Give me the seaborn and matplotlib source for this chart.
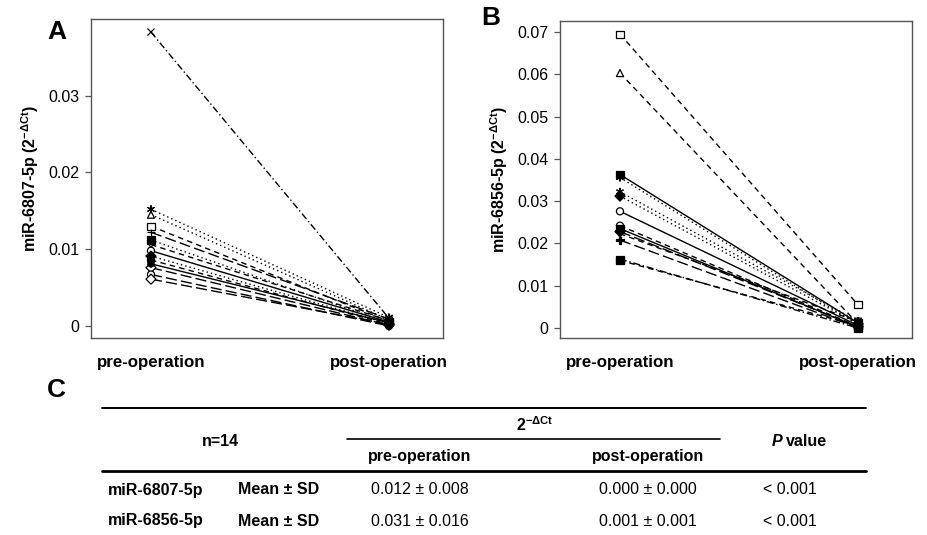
import matplotlib
matplotlib.use("Agg")
import matplotlib.pyplot as plt
from matplotlib.lines import Line2D
from matplotlib.markers import MarkerStyle
import seaborn as sns
import pandas as pd

# ---------------- data ----------------
categories = ["pre-operation", "post-operation"]
subjects = list(range(1, 15))

mir6807_pre = [0.0383, 0.0152, 0.0145, 0.0130, 0.0122, 0.0112, 0.0106,
               0.0098, 0.0091, 0.0086, 0.0081, 0.0076, 0.0067, 0.0061]
mir6807_post = [0.0010, 0.0011, 0.0008, 0.0006, 0.0009, 0.0004, 0.0007,
                0.0005, 0.0003, 0.0002, 0.0004, 0.0001, 0.0000, 0.0002]

mir6856_pre = [0.0695, 0.0603, 0.0363, 0.0356, 0.0322, 0.0312, 0.0276,
               0.0242, 0.0235, 0.0228, 0.0223, 0.0208, 0.0163, 0.0160]
mir6856_post = [0.0055, 0.0010, 0.0012, 0.0008, 0.0016, 0.0010, 0.0006,
                0.0004, 0.0002, 0.0003, 0.0015, 0.0001, 0.0000, 0.0005]

yticks_a = [0, 0.01, 0.02, 0.03]
yticklabels_a = ["0", "0.01", "0.02", "0.03"]
yticks_b = [0, 0.01, 0.02, 0.03, 0.04, 0.05, 0.06, 0.07]
yticklabels_b = ["0", "0.01", "0.02", "0.03", "0.04", "0.05", "0.06", "0.07"]

table_header = ["n=14", "pre-operation", "post-operation", "P value"]
table_mirnas = ["miR-6807-5p", "miR-6856-5p"]
table_stat = "Mean ± SD"
table_pre = ["0.012 ± 0.008", "0.031 ± 0.016"]
table_post = ["0.000 ± 0.000", "0.001 ± 0.001"]
table_p = ["< 0.001", "< 0.001"]

# ---------------- styles ----------------
AST = (6, 2, 0)
markers_a = ["x", AST, "^", "s", "+", "s", "v", "o", "D", "o", "h", "D", "o", "D"]
open_a = [False, False, True, True, False, False, True, True, False, False, False, True, True, True]
markers_b = ["s", "^", "s", AST, AST, "D", "o", "o", "s", "D", "v", "P", "s", "s"]
open_b = [True, True, False, False, False, False, True, True, False, False, True, False, False, False]

SOLID, DASH, DOT, DASHDOT, LONG = "", (4, 3), (1, 2.2), (5, 2, 1, 2), (8, 3)
dashes_a = [DASHDOT, DOT, DOT, DASH, LONG, DOT, DASH, SOLID, DOT, DASH, SOLID, LONG, LONG, LONG]
dashes_b = [DASH, DASH, SOLID, DOT, DOT, DOT, SOLID, DASH, SOLID, LONG, DASH, LONG, DASHDOT, DASH]

sns.set_theme(style="white")
plt.rcParams["font.family"] = ["Liberation Sans", "DejaVu Sans"]
plt.rcParams["text.color"] = "black"
plt.rcParams["axes.labelcolor"] = "black"
plt.rcParams["xtick.color"] = "black"
plt.rcParams["ytick.color"] = "black"
plt.rcParams["mathtext.fontset"] = "custom"
plt.rcParams["mathtext.rm"] = "Liberation Sans"
plt.rcParams["mathtext.bf"] = "Liberation Sans:bold"
plt.rcParams["mathtext.it"] = "Liberation Sans:italic"

fig = plt.figure(figsize=(9.28, 5.35), dpi=100)
W, H = 928.0, 535.0


def fx(px):
    return px / W


def fy(py):
    return 1 - py / H


def panel(rect, pre, post, markers, opens, dashes, ylim, yt, ytl, ylabel):
    ax = fig.add_axes(rect)
    df = pd.DataFrame({
        "subject": subjects * 2,
        "x": [0] * len(subjects) + [1] * len(subjects),
        "value": pre + post,
    })
    sns.lineplot(data=df, x="x", y="value", hue="subject", style="subject",
                 palette=["black"] * len(subjects), dashes=dashes, markers=False,
                 sort=False, legend=False, ax=ax, lw=1.0)
    # markers, split into groups (seaborn cannot mix filled and line-art markers)
    groups = {"open": [], "solid": [], "line": []}
    for s, m, o in zip(subjects, markers, opens):
        if not MarkerStyle(m).is_filled():
            groups["line"].append(s)
        elif o:
            groups["open"].append(s)
        else:
            groups["solid"].append(s)
    for g, subs in groups.items():
        if not subs:
            continue
        sub = df[df["subject"].isin(subs)]
        mk = {s: markers[subjects.index(s)] for s in subs}
        n0 = len(ax.collections)
        sns.scatterplot(data=sub, x="x", y="value", style="subject", markers=mk,
                        style_order=subs, color="black", s=26, legend=False, ax=ax,
                        zorder=3)
        for coll in ax.collections[n0:]:
            coll.set_edgecolor("black")
            coll.set_linewidth(0.9)
            coll.set_facecolor("white" if g == "open" else "black")
    ax.set_xlim(-0.252, 1.227)
    ax.set_ylim(*ylim)
    ax.set_xticks([0, 1])
    ax.set_xticklabels(categories, fontsize=12.2, fontweight="bold")
    ax.set_yticks(yt)
    ax.set_yticklabels(ytl, fontsize=11.5)
    ax.set_xlabel("")
    ax.set_ylabel(ylabel, fontsize=11.5, fontweight="bold", labelpad=5)
    for sp in ax.spines.values():
        sp.set_color("#555555")
        sp.set_linewidth(1.0)
    ax.tick_params(axis="y", left=True, length=4.5, width=0.9, color="#555555", pad=4)
    ax.tick_params(axis="x", bottom=False, pad=6)
    return ax


ax_a = panel([fx(91), fy(338), fx(352), (338 - 19) / H], mir6807_pre, mir6807_post,
             markers_a, open_a, dashes_a, (-0.00157, 0.0400), yticks_a, yticklabels_a,
             r"miR-6807-5p (2$^{\mathbf{-ΔCt}}$)")
ax_b = panel([fx(560), fy(338), fx(352), (338 - 21) / H], mir6856_pre, mir6856_post,
             markers_b, open_b, dashes_b, (-0.00236, 0.0726), yticks_b, yticklabels_b,
             r"miR-6856-5p (2$^{\mathbf{-ΔCt}}$)")

# panel letters
fig.text(fx(47), fy(32), "A", fontsize=19, fontweight="bold", va="center", ha="left")
fig.text(fx(481), fy(18), "B", fontsize=19, fontweight="bold", va="center", ha="left")
fig.text(fx(47), fy(390), "C", fontsize=19, fontweight="bold", va="center", ha="left")

# ---------------- table ----------------
narrow = ["Liberation Sans Narrow", "Liberation Sans", "DejaVu Sans"]
fs = 11.5


def hline(x0, x1, y, lw):
    fig.add_artist(Line2D([fx(x0), fx(x1)], [fy(y), fy(y)], color="black", lw=lw))


hline(102, 866, 408, 1.4)
hline(347, 720, 439, 1.2)
hline(102, 866, 471, 2.0)

fig.text(fx(535), fy(425), r"2$^{\mathbf{-ΔCt}}$", fontsize=fs, fontweight="bold",
         ha="center", va="center", family=narrow)
fig.text(fx(220), fy(442), table_header[0], fontsize=fs, fontweight="bold",
         ha="center", va="center", family=narrow)
fig.text(fx(420), fy(457), table_header[1], fontsize=fs, fontweight="bold",
         ha="center", va="center", family=narrow)
fig.text(fx(648), fy(457), table_header[2], fontsize=fs, fontweight="bold",
         ha="center", va="center", family=narrow)
fig.text(fx(782), fy(442), table_header[3][0], fontsize=fs, fontweight="bold",
         style="italic", ha="right", va="center", family=narrow)
fig.text(fx(786), fy(442), table_header[3][2:], fontsize=fs, fontweight="bold",
         ha="left", va="center", family=narrow)

for i, yy in enumerate([490, 521]):
    fig.text(fx(108), fy(yy), table_mirnas[i], fontsize=fs, fontweight="bold",
             ha="left", va="center", family=narrow)
    fig.text(fx(238), fy(yy), table_stat, fontsize=fs, fontweight="bold",
             ha="left", va="center", family=narrow)
    fig.text(fx(420), fy(yy), table_pre[i], fontsize=fs, ha="center", va="center", family=narrow)
    fig.text(fx(648), fy(yy), table_post[i], fontsize=fs, ha="center", va="center", family=narrow)
    fig.text(fx(790), fy(yy), table_p[i], fontsize=fs, ha="center", va="center", family=narrow)

fig.savefig("out.png", dpi=100)
